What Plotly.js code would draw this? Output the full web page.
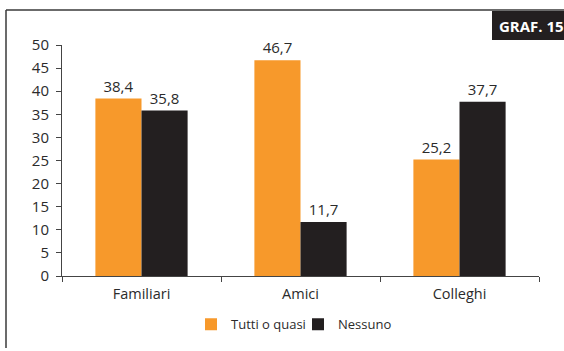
<!DOCTYPE html>
<html>
<head>
<meta charset="utf-8">
<script src="https://cdn.plot.ly/plotly-3.0.1.min.js"></script>
<style>
  html, body { margin: 0; padding: 0; background: #fff; }
  #chart { width: 564px; height: 351px; }
</style>
</head>
<body>
<div id="chart"></div>
<script>
// Categorie e serie
const categories = ['Familiari', 'Amici', 'Colleghi'];
const seriesNames = ['Tutti o quasi', 'Nessuno'];
const tuttiOQuasi = [38.4, 46.7, 25.2];
const nessuno = [35.8, 11.7, 37.7];
const yTickValues = [0, 5, 10, 15, 20, 25, 30, 35, 40, 45, 50];
const badgeText = 'GRAF. 15';

const W = 564, H = 351;
const margin = { l: 62, r: 25, t: 45, b: 72 };
const plotW = W - margin.l - margin.r;
const plotH = H - margin.t - margin.b;
// pixel -> paper coordinates for decorative shapes
const px = x => (x - margin.l) / plotW;
const py = y => (H - margin.b - y) / plotH;

const font = 'Open Sans, DejaVu Sans, sans-serif';
const textColor = '#2b2b2b';

const makeBar = (name, values, color) => ({
  type: 'bar',
  name: name,
  x: categories,
  y: values,
  marker: { color: color, line: { width: 0 } },
  text: values.map(v => v.toFixed(1).replace('.', ',')),
  textposition: 'outside',
  cliponaxis: false,
  textfont: { family: font, size: 15, color: textColor },
  hoverinfo: 'skip'
});

const data = [
  makeBar(seriesNames[0], tuttiOQuasi, '#f7992b'),
  makeBar(seriesNames[1], nessuno, '#231f20')
];

const layout = {
  width: W,
  height: H,
  margin: margin,
  paper_bgcolor: '#ffffff',
  plot_bgcolor: '#ffffff',
  barmode: 'group',
  bargap: 0.42,
  bargroupgap: 0,
  showlegend: true,
  legend: {
    orientation: 'h',
    x: px(298), xanchor: 'center',
    y: py(328), yanchor: 'middle',
    font: { family: font, size: 13, color: textColor },
    itemwidth: 30,
    entrywidth: 62,
    traceorder: 'normal'
  },
  xaxis: {
    type: 'category',
    showgrid: false,
    showline: true,
    linecolor: '#444',
    linewidth: 1,
    ticks: 'outside',
    tickson: 'boundaries',
    ticklen: 5,
    tickcolor: '#444',
    ticklabelstandoff: 5,
    tickfont: { family: font, size: 14.5, color: textColor },
    fixedrange: true
  },
  yaxis: {
    range: [0, 50],
    tickvals: yTickValues,
    showgrid: false,
    zeroline: false,
    showline: true,
    linecolor: '#444',
    linewidth: 1,
    ticks: 'outside',
    ticklen: 5,
    tickcolor: '#444',
    ticklabelstandoff: 4,
    tickfont: { family: font, size: 15, color: textColor },
    fixedrange: true
  },
  shapes: [
    // cornice
    { type: 'line', xref: 'paper', yref: 'paper', x0: px(6), x1: px(6), y0: py(9.5), y1: py(352),
      line: { color: '#3a3a3a', width: 1.5 } },
    { type: 'line', xref: 'paper', yref: 'paper', x0: px(6), x1: px(565), y0: py(9.5), y1: py(9.5),
      line: { color: '#3a3a3a', width: 1.5 } },
    // riquadro del numero di grafico
    { type: 'rect', xref: 'paper', yref: 'paper', x0: px(492), x1: px(566), y0: py(10.5), y1: py(40),
      fillcolor: '#231f20', line: { width: 0 } }
  ],
  annotations: [
    { xref: 'paper', yref: 'paper', x: px(497), y: py(25.5), xanchor: 'left', yanchor: 'middle',
      text: '<b>' + badgeText + '</b>', showarrow: false,
      font: { family: font, size: 15, color: '#ffffff' } }
  ]
};

Plotly.newPlot('chart', data, layout, { displayModeBar: false, staticPlot: true });
</script>
</body>
</html>
